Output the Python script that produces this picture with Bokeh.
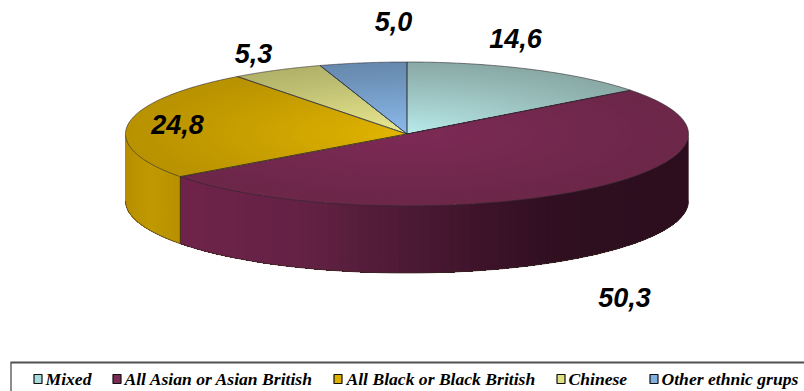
import numpy as np
from bokeh.core.properties import value
from bokeh.embed import file_html
from bokeh.models import ColumnDataSource, Range1d
from bokeh.plotting import figure
from bokeh.resources import INLINE

categories = ["Mixed", "All Asian or Asian British", "All Black or Black British", "Chinese", "Other ethnic grups"]
shares = [14.6, 50.3, 24.8, 5.3, 5.0]
share_labels = ["14,6", "50,3", "24,8", "5,3", "5,0"]

# Colours: rim of the top face, centre of the top face, legend swatch
rim_colors = ["#8aaaa6", "#6c2749", "#b89200", "#b2b26a", "#6789ae"]
hub_colors = ["#b9ecec", "#7d2a56", "#e2b500", "#ecec92", "#8cbcee"]
swatches = ["#a6dcdc", "#7c2a56", "#dcb000", "#e0e080", "#80b0e0"]

# Shading of the wall along the screen x axis: (x, colour) stops per slice
wall_stops = {
    1: [(180, "#70234a"), (300, "#642245"), (400, "#4e1a35"), (500, "#3a1228"), (560, "#2f0f20"), (688, "#2c0e1e")],
    2: [(125, "#b88f00"), (150, "#c09a00"), (180, "#b89000")],
}

CX, CY, RX, RY, DEPTH = 406.5, 133.5, 281.5, 72.0, 67.0

label_xy = [(515, 38), (624, 297), (177, 124), (253, 53), (393, 21)]
legend_slots = [(33, 45), (112, 124), (333, 346), (556, 568), (649, 661)]


def rgb(c):
    return np.array([int(c[i:i + 2], 16) for i in (1, 3, 5)], dtype=float)


def mix(a, b, t):
    v = rgb(a) * (1 - t) + rgb(b) * t
    return "#%02x%02x%02x" % tuple(int(round(x)) for x in v)


def rim(theta, scale=1.0):
    return CX + RX * scale * np.sin(theta), CY - RY * scale * np.cos(theta)


p = figure(width=804, height=391, output_backend="svg", toolbar_location=None,
           x_range=Range1d(0, 804), y_range=Range1d(391, 0), min_border=0,
           outline_line_color=None)
p.axis.visible = False
p.grid.visible = False

edges = np.concatenate([[0], np.cumsum(shares)]) / sum(shares) * 2 * np.pi

# Wall of the disc: only the part of the rim facing the viewer.
# Bands are painted over one another, each running on to the end of the arc,
# so no seams open up between neighbours.
for i, stops in wall_stops.items():
    a0, a1 = edges[i], edges[i + 1]
    lo, hi = max(a0, np.pi / 2), min(a1, 3 * np.pi / 2)
    ts = np.linspace(lo, hi, 70)
    sx = [s[0] for s in stops]
    xs_q, ys_q, cols = [], [], []
    for j in range(len(ts) - 1):
        arc = ts[j:]
        x0, _ = rim(ts[j])
        x1, _ = rim(ts[j + 1])
        xm = (x0 + x1) / 2
        k = int(np.clip(np.searchsorted(sx, xm) - 1, 0, len(stops) - 2))
        f = (xm - sx[k]) / (sx[k + 1] - sx[k])
        ax, ay = rim(arc)
        xs_q.append(np.r_[ax, ax[::-1]].tolist())
        ys_q.append(np.r_[ay, ay[::-1] + DEPTH].tolist())
        cols.append(mix(stops[k][1], stops[k + 1][1], float(np.clip(f, 0, 1))))
    p.patches(xs_q, ys_q, fill_color=cols, line_color=None)
    # Outline of the wall
    bx, by = rim(ts)
    p.line(bx, by + DEPTH, line_color="#3a2a20", line_width=1, line_alpha=0.7)
    for t in (a0, a1):
        if np.pi / 2 < t < 3 * np.pi / 2:
            ex, ey = rim(t)
            p.line([ex, ex], [ey, ey + DEPTH], line_color="#3a2a20", line_width=1, line_alpha=0.8)

# Top face: each slice is painted as shrinking copies, rim colour to hub colour
for i in range(len(shares)):
    ts = np.linspace(edges[i], edges[i + 1], 120)
    xs_p, ys_p, cols = [], [], []
    for s in np.linspace(1, 0.04, 40):
        ex, ey = rim(ts, s)
        xs_p.append(np.r_[CX, ex].tolist())
        ys_p.append(np.r_[CY, ey].tolist())
        cols.append(mix(rim_colors[i], hub_colors[i], (1 - s) ** 1.1))
    p.patches(xs_p, ys_p, fill_color=cols, line_color=None)

for i in range(len(shares)):
    ts = np.linspace(edges[i], edges[i + 1], 120)
    ex, ey = rim(ts)
    p.line(np.r_[CX, ex, CX], np.r_[CY, ey, CY], line_color="#2e2a30", line_width=0.8, line_alpha=0.75)

# Value labels around the disc
p.text([q[0] for q in label_xy], [q[1] for q in label_xy], text=share_labels,
       text_font=value("Liberation Sans"), text_font_style="bold italic",
       text_font_size="27px", text_color="#000000",
       text_align="center", text_baseline="middle")

# Legend frame with its swatches and entries
p.line([10.5, 10.5], [391, 362], line_color="#404040", line_width=1.2)
p.line([10, 804], [362, 362], line_color="#505050", line_width=2)
src = ColumnDataSource(dict(
    sx=[q[0] + 4.5 for q in legend_slots],
    tx=[q[1] for q in legend_slots],
    sy=[378.5] * len(legend_slots),
    name=categories,
    col=swatches,
))
p.rect("sx", "sy", width=8, height=9, source=src, fill_color="col", line_color="#101010", line_width=1.2)
p.text("tx", "sy", text="name", source=src,
       text_font=value("Liberation Serif"), text_font_style="bold italic",
       text_font_size="17.6px", text_color="#000000",
       text_align="left", text_baseline="middle")

open("out.html", "w").write(file_html(p, INLINE))
